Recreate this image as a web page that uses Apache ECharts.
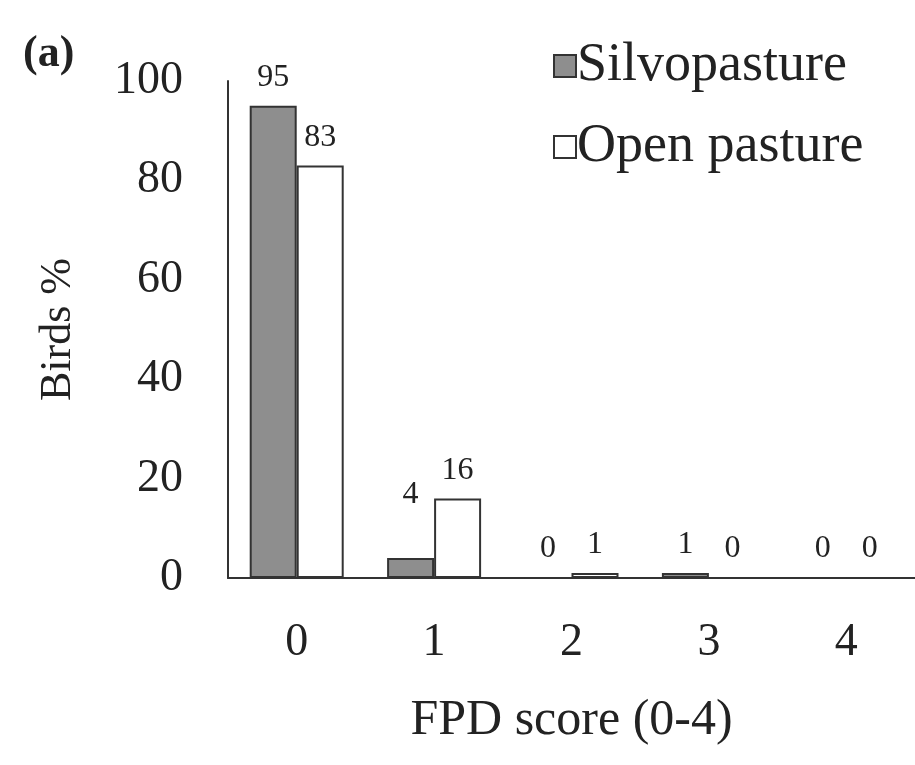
<!DOCTYPE html>
<html>
<head>
<meta charset="utf-8">
<script src="https://cdn.jsdelivr.net/npm/echarts@6/dist/echarts.min.js"></script>
<style>html,body{margin:0;padding:0;background:#fff}#c{width:915px;height:765px}</style>
</head>
<body>
<div id="c"></div>
<script>
const categories = ['0', '1', '2', '3', '4'];
const silvopasture = [95, 4, 0, 1, 0];
const openPasture = [83, 16, 1, 0, 0];
const yTicks = { min: 0, max: 100, interval: 20 };
const FONT = '"Liberation Serif", "Times New Roman", serif';

const chart = echarts.init(document.getElementById('c'));
const labelCfg = { show: true, position: 'top', distance: 12, fontFamily: FONT, fontSize: 32, color: '#222' };
// the "4" label sits higher in the reference
const silvoData = silvopasture.map((v, i) => i === 1 ? { value: v, label: { distance: 48 } } : v);
chart.setOption({
  animation: false,
  title: { text: '(a)', left: 18, top: 28, textStyle: { fontFamily: FONT, fontSize: 44, fontWeight: 'bold', color: '#222' } },
  legend: {
    orient: 'vertical', left: 548, top: 34, itemWidth: 22, itemHeight: 22, itemGap: 27,
    icon: 'rect',
    textStyle: { fontFamily: FONT, fontSize: 54, color: '#222', padding: [0, 0, 0, -4] },
    data: ['Silvopasture', 'Open pasture']
  },
  grid: { left: 228, top: 81, bottom: 187, width: 692 },
  xAxis: {
    type: 'category', data: categories,
    name: 'FPD score (0-4)', nameLocation: 'middle', nameGap: 118,
    nameTextStyle: { fontFamily: FONT, fontSize: 50, color: '#222' },
    axisLine: { lineStyle: { color: '#333', width: 2 } },
    axisTick: { show: false },
    axisLabel: { fontFamily: FONT, fontSize: 46, color: '#222', margin: 42 }
  },
  yAxis: {
    type: 'value', min: yTicks.min, max: yTicks.max, interval: yTicks.interval,
    name: 'Birds %', nameLocation: 'middle', nameGap: 148,
    nameTextStyle: { fontFamily: FONT, fontSize: 44, color: '#222' },
    axisLine: { show: true, lineStyle: { color: '#333', width: 2 } },
    axisTick: { show: false },
    splitLine: { show: false },
    axisLabel: { fontFamily: FONT, fontSize: 46, color: '#222', margin: 45 }
  },
  series: [
    { name: 'Silvopasture', type: 'bar', data: silvoData, barWidth: 47, barGap: '0%',
      itemStyle: { color: '#8e8e8e', borderColor: '#333', borderWidth: 2 }, label: labelCfg },
    { name: 'Open pasture', type: 'bar', data: openPasture, barWidth: 47,
      itemStyle: { color: '#ffffff', borderColor: '#333', borderWidth: 2 }, label: labelCfg }
  ]
});
</script>
</body>
</html>
